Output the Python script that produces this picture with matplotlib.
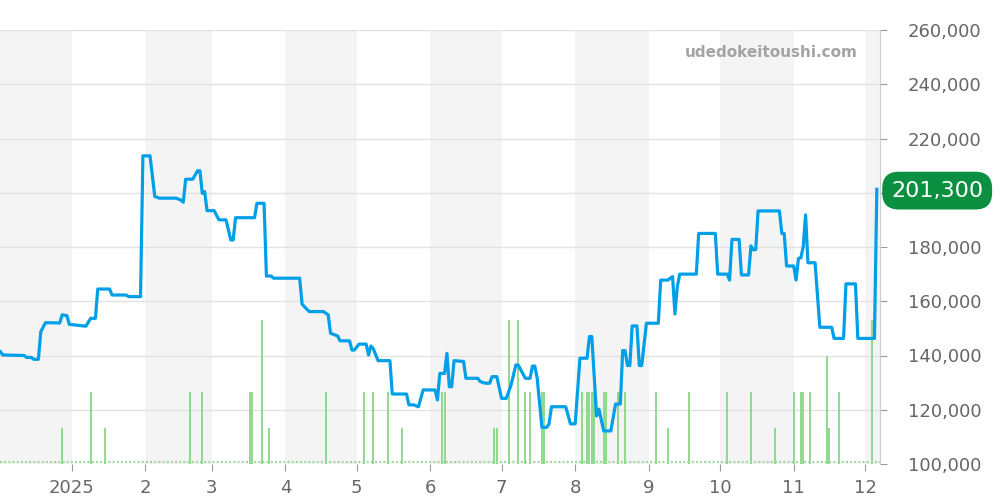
import matplotlib
matplotlib.use("Agg")
import matplotlib.pyplot as plt
from matplotlib.ticker import FuncFormatter
import pandas as pd

# 相場価格 (円)
price_dates = [
    "2024-12-02", "2024-12-03", "2024-12-12", "2024-12-13", "2024-12-15", "2024-12-16",
    "2024-12-18", "2024-12-19", "2024-12-21", "2024-12-27", "2024-12-28", "2024-12-30",
    "2024-12-31", "2025-01-07", "2025-01-09", "2025-01-11", "2025-01-12", "2025-01-17",
    "2025-01-18", "2025-01-24", "2025-01-25", "2025-01-30", "2025-01-31", "2025-02-03",
    "2025-02-05", "2025-02-07", "2025-02-14", "2025-02-16", "2025-02-17", "2025-02-18",
    "2025-02-21", "2025-02-23", "2025-02-24", "2025-02-25", "2025-02-26", "2025-02-27",
    "2025-03-02", "2025-03-04", "2025-03-07", "2025-03-09", "2025-03-10", "2025-03-11",
    "2025-03-19", "2025-03-20", "2025-03-23", "2025-03-24", "2025-03-26", "2025-03-27",
    "2025-04-07", "2025-04-08", "2025-04-09", "2025-04-11", "2025-04-17", "2025-04-19",
    "2025-04-20", "2025-04-23", "2025-04-24", "2025-04-28", "2025-04-29", "2025-04-30",
    "2025-05-02", "2025-05-05", "2025-05-06", "2025-05-07", "2025-05-08", "2025-05-10",
    "2025-05-15", "2025-05-16", "2025-05-22", "2025-05-23", "2025-05-25", "2025-05-27",
    "2025-05-29", "2025-06-03", "2025-06-04", "2025-06-05", "2025-06-07", "2025-06-08",
    "2025-06-09", "2025-06-10", "2025-06-11", "2025-06-15", "2025-06-16", "2025-06-21",
    "2025-06-22", "2025-06-24", "2025-06-26", "2025-06-27", "2025-06-29", "2025-07-01",
    "2025-07-03", "2025-07-05", "2025-07-07", "2025-07-08", "2025-07-11", "2025-07-13",
    "2025-07-14", "2025-07-15", "2025-07-16", "2025-07-18", "2025-07-20", "2025-07-21",
    "2025-07-22", "2025-07-28", "2025-07-30", "2025-08-01", "2025-08-03", "2025-08-06",
    "2025-08-07", "2025-08-08", "2025-08-10", "2025-08-11", "2025-08-13", "2025-08-16",
    "2025-08-18", "2025-08-20", "2025-08-21", "2025-08-22", "2025-08-23", "2025-08-24",
    "2025-08-25", "2025-08-27", "2025-08-28", "2025-08-29", "2025-08-31", "2025-09-05",
    "2025-09-06", "2025-09-09", "2025-09-11", "2025-09-12", "2025-09-13", "2025-09-14",
    "2025-09-21", "2025-09-22", "2025-09-29", "2025-09-30", "2025-10-04", "2025-10-05",
    "2025-10-06", "2025-10-09", "2025-10-10", "2025-10-13", "2025-10-14", "2025-10-15",
    "2025-10-16", "2025-10-17", "2025-10-26", "2025-10-27", "2025-10-28", "2025-10-29",
    "2025-11-01", "2025-11-02", "2025-11-03", "2025-11-04", "2025-11-05", "2025-11-06",
    "2025-11-07", "2025-11-10", "2025-11-12", "2025-11-17", "2025-11-18", "2025-11-22",
    "2025-11-23", "2025-11-27", "2025-11-28", "2025-12-05", "2025-12-06",
]
prices = [
    141400, 140200, 140000, 139300, 139300, 138600,
    138600, 148800, 152100, 152000, 155000, 154700,
    151500, 150800, 153700, 153700, 164500, 164500,
    162300, 162300, 161700, 161700, 213600, 213600,
    198600, 198000, 198000, 197300, 196500, 205000,
    205000, 208100, 208100, 199800, 200400, 193400,
    193400, 190000, 190000, 182600, 182600, 190800,
    190800, 196100, 196100, 169300, 169300, 168500,
    168500, 159000, 158000, 156200, 156200, 155000,
    148200, 147200, 145400, 145400, 142000, 142000,
    144200, 144200, 140200, 143500, 142500, 138100,
    138100, 125800, 125800, 121800, 121800, 121100,
    127300, 127300, 123600, 133400, 133400, 140800,
    128500, 128500, 138100, 137800, 131600, 131600,
    130400, 129800, 129800, 132200, 132200, 124200,
    124200, 129100, 136500, 136500, 131600, 131600,
    136100, 136100, 131600, 113500, 113500, 114800,
    121100, 121100, 114800, 114800, 139000, 139000,
    147000, 147000, 117700, 120200, 112200, 112200,
    122100, 122100, 141800, 141800, 136300, 136300,
    150900, 150900, 136300, 136300, 151900, 151900,
    167800, 167800, 169100, 155300, 165400, 170000,
    170000, 185000, 185000, 170000, 170000, 167800,
    182800, 182800, 169700, 169700, 180400, 179000,
    179000, 193300, 193300, 185000, 185000, 173000,
    173000, 167800, 175800, 176000, 180100, 191800,
    174200, 174200, 150400, 150400, 146300, 146300,
    166400, 166400, 146300, 146300, 201300,
]

# 取引件数
vol_dates = [
    "2024-12-28", "2025-01-09", "2025-01-15", "2025-02-20", "2025-02-25", "2025-03-17",
    "2025-03-18", "2025-03-22", "2025-03-25", "2025-04-18", "2025-05-04", "2025-05-08",
    "2025-05-14", "2025-05-20", "2025-06-06", "2025-06-07", "2025-06-28", "2025-06-29",
    "2025-07-04", "2025-07-08", "2025-07-11", "2025-07-13", "2025-07-18", "2025-07-19",
    "2025-08-04", "2025-08-06", "2025-08-07", "2025-08-08", "2025-08-09", "2025-08-13",
    "2025-08-14", "2025-08-19", "2025-08-22", "2025-09-04", "2025-09-09", "2025-09-18",
    "2025-10-04", "2025-10-14", "2025-10-24", "2025-11-01", "2025-11-04", "2025-11-05",
    "2025-11-08", "2025-11-15", "2025-11-16", "2025-11-20", "2025-12-04",
]
vol_counts = [
    1, 2, 1, 2, 2, 2,
    2, 4, 1, 2, 2, 2,
    2, 1, 2, 2, 1, 1,
    4, 4, 2, 2, 2, 2,
    2, 2, 2, 2, 2, 2,
    2, 2, 2, 2, 1, 2,
    2, 2, 1, 2, 2, 2,
    2, 3, 1, 2, 4,
]

y_ticks = list(range(100000, 260001, 20000))
month_starts = pd.date_range("2025-01-01", "2025-12-01", freq="MS")
month_labels = ["2025"] + [str(m.month) for m in month_starts[1:]]
shade_months = ["2024-12-01", "2025-02-01", "2025-04-01", "2025-06-01",
                "2025-08-01", "2025-10-01", "2025-12-01"]
last_price = prices[-1]
hidden_tick = 200000  # 現在値ラベルの下に隠れる目盛り

pd_dates = pd.to_datetime(price_dates)
v_dates = pd.to_datetime(vol_dates)
x_left = pd.Timestamp("2024-12-01 20:00")
x_right = pd.Timestamp("2025-12-07 08:00")

fig = plt.figure(figsize=(10, 5), dpi=100)
ax = fig.add_axes([0.0, 0.072, 0.88, 0.868])

# 月ごとの背景
for s in shade_months:
    start = pd.Timestamp(s)
    end = start + pd.offsets.MonthBegin(1)
    ax.axvspan(max(start, x_left), min(end, x_right), color="#f4f4f4", lw=0, zorder=0)

ax.set_ylim(100000, 260000)
ax.set_xlim(x_left, x_right)
ax.set_yticks(y_ticks)
ax.grid(axis="y", color="#e2e2e2", lw=1, zorder=1)
ax.set_xticks(month_starts)
ax.set_xticklabels(month_labels)
ax.tick_params(axis="x", length=5, color="#999999", labelsize=13, labelcolor="#666666", pad=6)

# 取引件数 (第2軸)
ax2 = ax.twinx()
ax2.set_ylim(0, 12.05)
ax2.set_xlim(x_left, x_right)
ax2.vlines(v_dates, 0, vol_counts, color="#8fd88f", lw=1.4, zorder=2)
ax2.hlines(0.05, x_left, x_right, color="#9ed89e", lw=1.5, linestyles=(0, (1, 1)), zorder=2)
ax2.axis("off")

# 価格ライン
ax3 = ax.twinx()
ax3.set_ylim(100000, 260000)
ax3.set_xlim(x_left, x_right)
ax3.plot(pd_dates, prices, color="#00a0e9", lw=2.3, solid_joinstyle="round", zorder=3)
ax3.axis("off")

# twinx の後で右側に目盛りを移す
ax.yaxis.tick_right()
ax.yaxis.set_major_formatter(FuncFormatter(lambda v, p: "" if v == hidden_tick else f"{int(v):,}"))
ax.tick_params(axis="y", which="both", left=False, labelleft=False, right=True, labelright=True,
               length=5, color="#999999", labelsize=13, labelcolor="#666666", pad=15)
for sp in ["top", "left", "bottom"]:
    ax.spines[sp].set_visible(False)
ax.spines["right"].set_visible(True)
ax.spines["right"].set_color("#cccccc")

ax3.text(0.975, 0.949, "udedokeitoushi.com", transform=ax.transAxes, ha="right", va="center",
         fontsize=11, fontweight="bold", color="#a3a3a3")

ax3.annotate(f"{last_price:,}", xy=(1.0, last_price), xycoords=("axes fraction", "data"),
             xytext=(8, -1), textcoords="offset points", ha="left", va="center",
             fontsize=16, color="white", annotation_clip=False,
             bbox=dict(boxstyle="round,pad=0.4,rounding_size=0.75", fc="#0a9040", ec="none"))

fig.savefig("out.png", dpi=100)
